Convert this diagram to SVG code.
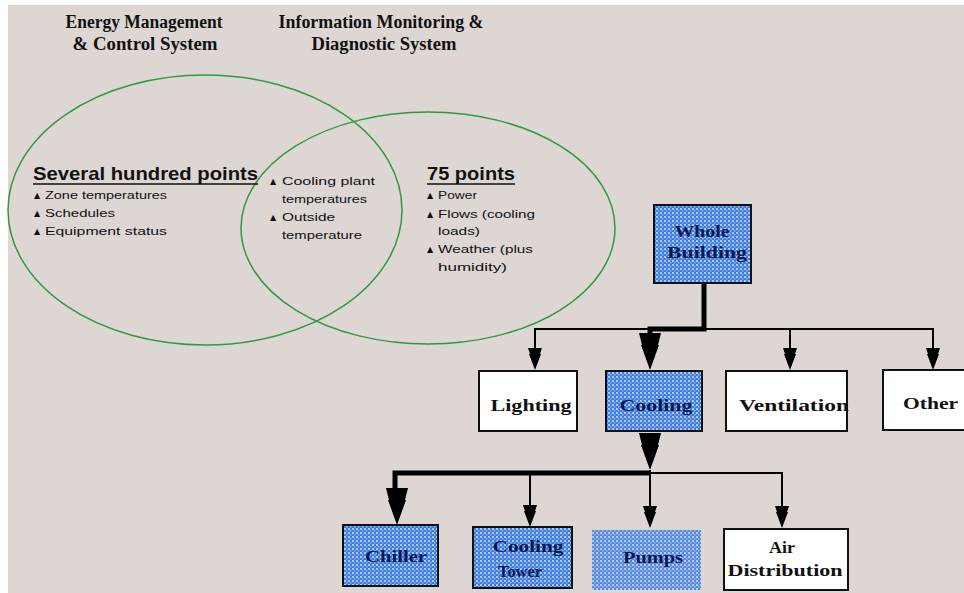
<svg xmlns="http://www.w3.org/2000/svg" width="964" height="593" viewBox="0 0 964 593">
<style>
.title{font-family:"Liberation Serif","Times New Roman",serif;font-weight:bold;font-size:18px;fill:#111}
.head{font-family:"Liberation Sans",Arial,sans-serif;font-weight:bold;font-size:19px;fill:#111}
.bul{font-family:"Liberation Sans",Arial,sans-serif;font-size:11.5px;fill:#111}
.tri{font-family:"DejaVu Sans",sans-serif;font-size:8px;fill:#111}
.bx{font-family:"Liberation Serif","DejaVu Serif",serif;font-weight:bold;font-size:17px;fill:#111}
.bxb{font-family:"Liberation Serif","DejaVu Serif",serif;font-weight:bold;font-size:17px;fill:#0b1850}
.ell{fill:none;stroke:#2f9a42;stroke-width:1.5}
.wbox{fill:#fff;stroke:#111;stroke-width:2}
.bbox{fill:url(#dots);stroke:#111;stroke-width:2}
.thin{stroke:#000;stroke-width:2;fill:none}
.thick{stroke:#000;stroke-width:5;fill:none}
.ul{stroke:#111;stroke-width:1.5}
</style>
<defs>
<pattern id="dots" width="4" height="4" patternUnits="userSpaceOnUse">
<rect width="4" height="4" fill="#3f7ae0"/>
<rect x="0" y="0" width="2" height="2" fill="#a9cdfb"/>
<rect x="2" y="2" width="1.5" height="1.5" fill="#8fbcf6"/>
</pattern>
<path id="arS" d="M-7,0 H7 L5,6 H6 L0,22 L-6,6 H-5 Z" fill="#000"/>
<path id="arL" d="M-11,0 H11 L8,12 H9 L0,37 L-9,12 H-8 Z" fill="#000"/>
</defs>
<rect x="0" y="0" width="964" height="593" fill="#fff"/>
<rect x="8" y="5" width="956" height="588" fill="#ddd6d3"/>

<g id="venn">
<ellipse class="ell" cx="205" cy="210" rx="197" ry="135"/>
<ellipse class="ell" cx="428" cy="228" rx="187" ry="116"/>
</g>

<g id="titles">
<text class="title" x="144" y="28" text-anchor="middle" textLength="157" lengthAdjust="spacingAndGlyphs">Energy Management</text>
<text class="title" x="145" y="50" text-anchor="middle" textLength="145" lengthAdjust="spacingAndGlyphs">&amp; Control System</text>
<text class="title" x="381" y="28" text-anchor="middle" textLength="205" lengthAdjust="spacingAndGlyphs">Information Monitoring &amp;</text>
<text class="title" x="384" y="50" text-anchor="middle" textLength="145" lengthAdjust="spacingAndGlyphs">Diagnostic System</text>
</g>

<g id="ems-text">
<text class="head" x="33" y="180" textLength="225" lengthAdjust="spacingAndGlyphs">Several hundred points</text>
<line class="ul" x1="33" y1="184" x2="258" y2="184"/>
<text class="tri" x="34" y="198">▲</text><text class="bul" x="45" y="199" textLength="122" lengthAdjust="spacingAndGlyphs">Zone temperatures</text>
<text class="tri" x="34" y="216">▲</text><text class="bul" x="45" y="217" textLength="70" lengthAdjust="spacingAndGlyphs">Schedules</text>
<text class="tri" x="34" y="234">▲</text><text class="bul" x="45" y="235" textLength="122" lengthAdjust="spacingAndGlyphs">Equipment status</text>
</g>

<g id="shared-text">
<text class="tri" x="270" y="184">▲</text><text class="bul" x="282" y="185" textLength="93" lengthAdjust="spacingAndGlyphs">Cooling plant</text>
<text class="bul" x="282" y="203" textLength="85" lengthAdjust="spacingAndGlyphs">temperatures</text>
<text class="tri" x="270" y="220">▲</text><text class="bul" x="282" y="221" textLength="53" lengthAdjust="spacingAndGlyphs">Outside</text>
<text class="bul" x="282" y="239" textLength="80" lengthAdjust="spacingAndGlyphs">temperature</text>
</g>

<g id="imds-text">
<text class="head" x="427" y="180" textLength="88" lengthAdjust="spacingAndGlyphs">75 points</text>
<line class="ul" x1="427" y1="184" x2="515" y2="184"/>
<text class="tri" x="427" y="198">▲</text><text class="bul" x="438" y="199" textLength="39" lengthAdjust="spacingAndGlyphs">Power</text>
<text class="tri" x="427" y="217">▲</text><text class="bul" x="438" y="218" textLength="97" lengthAdjust="spacingAndGlyphs">Flows (cooling</text>
<text class="bul" x="438" y="235" textLength="42" lengthAdjust="spacingAndGlyphs">loads)</text>
<text class="tri" x="427" y="252">▲</text><text class="bul" x="438" y="253" textLength="95" lengthAdjust="spacingAndGlyphs">Weather (plus</text>
<text class="bul" x="438" y="271" textLength="69" lengthAdjust="spacingAndGlyphs">humidity)</text>
</g>

<g id="connectors">
<path class="thick" d="M704,283 V329 H650 V334"/>
<path class="thin" d="M535,348 V329 H933 V348"/>
<path class="thin" d="M790,329 V348"/>
<use href="#arS" x="535" y="348"/>
<use href="#arL" x="650" y="333"/>
<use href="#arS" x="790" y="348"/>
<use href="#arS" x="933" y="348"/>
<use href="#arL" x="650" y="433"/>
<path class="thick" d="M395,489 V473 H650"/>
<path class="thin" d="M650,473 H782 V506"/>
<path class="thin" d="M530,473 V506"/>
<path class="thin" d="M650,470 V506"/>
<use href="#arL" x="397" y="488"/>
<use href="#arS" x="530" y="505"/>
<use href="#arS" x="650" y="506"/>
<use href="#arS" x="782" y="506"/>
</g>

<g id="whole-building">
<rect class="bbox" x="654" y="205" width="97" height="78"/>
<text class="bxb" x="702" y="237" text-anchor="middle" textLength="55" lengthAdjust="spacingAndGlyphs">Whole</text>
<text class="bxb" x="707" y="258" text-anchor="middle" textLength="80" lengthAdjust="spacingAndGlyphs">Building</text>
</g>

<g id="lighting">
<rect class="wbox" x="479" y="371" width="98" height="60"/>
<text class="bx" x="531" y="411" text-anchor="middle" textLength="81" lengthAdjust="spacingAndGlyphs">Lighting</text>
</g>
<g id="cooling">
<rect class="bbox" x="606" y="371" width="96" height="60"/>
<text class="bxb" x="656" y="411" text-anchor="middle" textLength="73" lengthAdjust="spacingAndGlyphs">Cooling</text>
</g>
<g id="ventilation">
<rect class="wbox" x="726" y="371" width="121" height="60"/>
<text class="bx" x="739" y="411" textLength="110" lengthAdjust="spacingAndGlyphs">Ventilation</text>
</g>
<g id="other">
<rect class="wbox" x="883" y="370" width="90" height="60"/>
<text class="bx" x="903" y="409" textLength="55" lengthAdjust="spacingAndGlyphs">Other</text>
</g>

<g id="chiller">
<rect class="bbox" x="343" y="525" width="95" height="61"/>
<text class="bxb" x="396" y="562" text-anchor="middle" textLength="62" lengthAdjust="spacingAndGlyphs">Chiller</text>
</g>
<g id="cooling-tower">
<rect class="bbox" x="473" y="527" width="99" height="61"/>
<text class="bxb" x="528" y="552" text-anchor="middle" textLength="71" lengthAdjust="spacingAndGlyphs">Cooling</text>
<text class="bxb" x="520" y="577" text-anchor="middle" textLength="44" lengthAdjust="spacingAndGlyphs">Tower</text>
</g>
<g id="pumps">
<rect x="592" y="530" width="109" height="60" fill="url(#dots)" opacity="0.85"/>
<text class="bxb" x="653" y="563" text-anchor="middle" textLength="60" lengthAdjust="spacingAndGlyphs">Pumps</text>
</g>
<g id="air-distribution">
<rect class="wbox" x="724" y="529" width="124" height="61"/>
<text class="bx" x="782" y="553" text-anchor="middle" textLength="26" lengthAdjust="spacingAndGlyphs">Air</text>
<text class="bx" x="785" y="576" text-anchor="middle" textLength="115" lengthAdjust="spacingAndGlyphs">Distribution</text>
</g>
</svg>
